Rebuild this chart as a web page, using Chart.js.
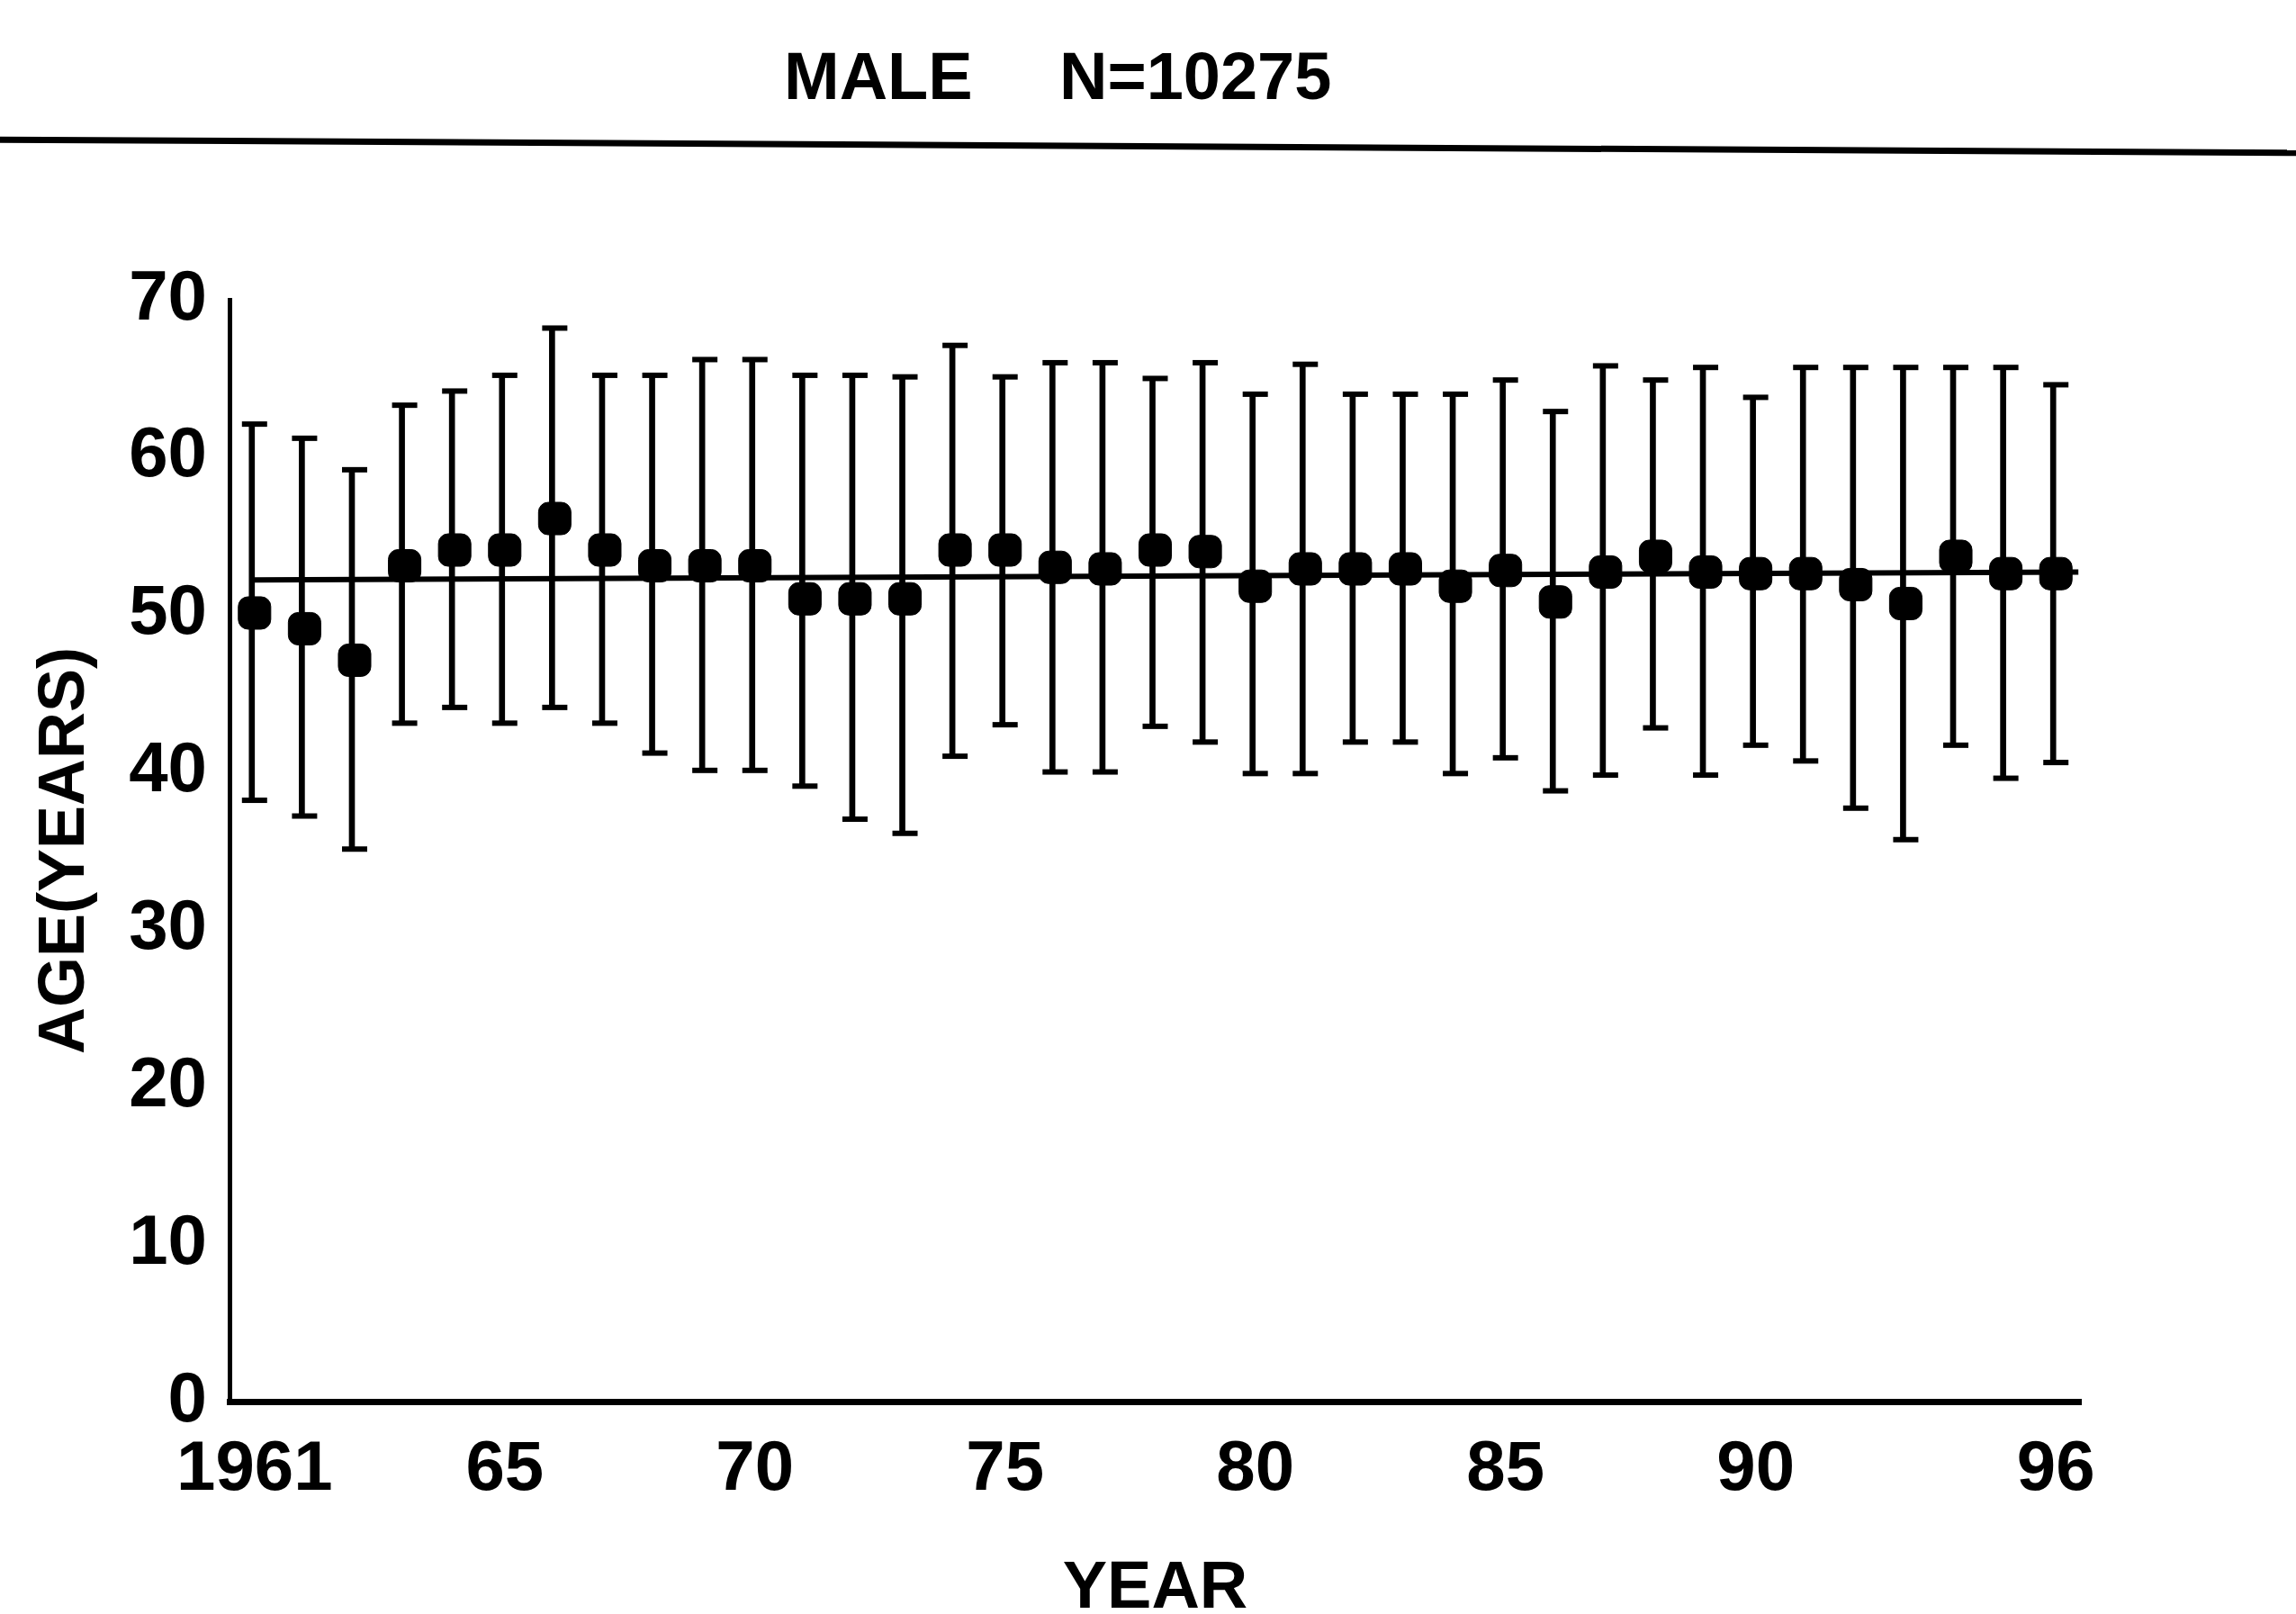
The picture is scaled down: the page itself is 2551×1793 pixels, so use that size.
<!DOCTYPE html>
<html>
<head>
<meta charset="utf-8">
<title>MALE N=10275</title>
<script src="https://cdn.jsdelivr.net/npm/chart.js@4.4.0/dist/chart.umd.min.js"></script>
<style>
  html, body { margin: 0; padding: 0; background: #fff; overflow: hidden; }
  #page { position: relative; width: 2551px; height: 1793px; overflow: hidden; }
  .head {
    position: absolute;
    top: 48px;
    font: bold 74px "Liberation Sans", Arial, sans-serif;
    line-height: 74px;
    color: #000;
    white-space: nowrap;
  }
  #rule {
    position: absolute;
    left: -10px; top: 159px;
    width: 2580px; height: 7px;
    background: #000;
    transform: rotate(0.33deg);
  }
  #ageChart { position: absolute; left: 0; top: 0; }
</style>
</head>
<body>
<div id="page">
  <div class="head" style="left:871px">MALE</div>
  <div class="head" style="left:1177px">N=10275</div>
  <div id="rule"></div>
  <canvas id="ageChart" width="2551" height="1830"></canvas>
</div>
<script>
"use strict";

// one category per plotted year, only some are labelled
const TICK_LABELS = [
  "1961", "", "", "", "", "65", "", "", "", "",
  "70", "", "", "", "", "75", "", "", "", "",
  "80", "", "", "", "", "85", "", "", "", "",
  "90", "", "", "", "", "", "96",
];

const MEAN_AGE = [
  50.1, 49.1, 47.1, 53.1, 54.1, 54.1, 56.1, 54.1, 53.1, 53.1,
  53.1, 51.0, 51.0, 51.0, 54.1, 54.1, 53.0, 52.9, 54.1, 54.0,
  51.8, 52.9, 52.9, 52.9, 51.8, 52.8, 50.8, 52.7, 53.7, 52.7,
  52.6, 52.6, 51.9, 50.7, 53.7, 52.6, 52.6,
];

const UPPER_AGE = [
  62.1, 61.2, 59.2, 63.3, 64.2, 65.2, 68.2, 65.2, 65.2, 66.2,
  66.2, 65.2, 65.2, 65.1, 67.1, 65.1, 66.0, 66.0, 65.0, 66.0,
  64.0, 65.9, 64.0, 64.0, 64.0, 64.9, 62.9, 65.8, 64.9, 65.7,
  63.8, 65.7, 65.7, 65.7, 65.7, 65.7, 64.6,
];

const LOWER_AGE = [
  38.2, 37.2, 35.1, 43.1, 44.1, 43.1, 44.1, 43.1, 41.2, 40.1,
  40.1, 39.1, 37.0, 36.1, 41.0, 43.0, 40.0, 40.0, 42.9, 41.9,
  39.9, 39.9, 41.9, 41.9, 39.9, 40.9, 38.8, 39.8, 42.8, 39.8,
  41.7, 40.7, 37.7, 35.7, 41.7, 39.6, 40.6,
];

// overall mean line: start / end position (category index) and value
const TREND_X = [0, 36.45];
const TREND_Y = [52.2, 52.7];

const Y_TICKS = [0, 10, 20, 30, 40, 50, 60, 70];

const FONT = "'Liberation Sans', Arial, sans-serif";
const INK  = "#000";

Chart.defaults.font.family = FONT;
Chart.defaults.font.weight = "bold";
Chart.defaults.color = INK;

function buildDatasets() {
  return [
    {
      type: "line",
      label: "Mean",
      data: MEAN_AGE,
      showLine: false,
      pointStyle: "rectRounded",
      pointRadius: 21,
      pointBackgroundColor: INK,
      pointBorderColor: INK,
      pointBorderWidth: 1,
    },
    {
      type: "line",
      label: "Upper",
      data: UPPER_AGE,
      showLine: false,
      pointStyle: "line",
      pointRadius: 14,
      pointBorderColor: INK,
      pointBorderWidth: 6,
    },
    {
      type: "line",
      label: "Lower",
      data: LOWER_AGE,
      showLine: false,
      pointStyle: "line",
      pointRadius: 14,
      pointBorderColor: INK,
      pointBorderWidth: 6,
    },
    {
      type: "line",
      label: "Overall",
      xAxisID: "x2",
      data: TREND_X.map((x, i) => ({ x, y: TREND_Y[i] })),
      borderColor: INK,
      borderWidth: 6,
      pointRadius: 0,
    },
    {
      type: "bar",
      label: "Range",
      data: LOWER_AGE.map((lo, i) => [lo, UPPER_AGE[i]]),
      backgroundColor: INK,
      borderWidth: 0,
      barThickness: 6,
    },
  ];
}

const canvas = document.getElementById("ageChart");

new Chart(canvas, {
  type: "bar",
  data: {
    labels: TICK_LABELS,
    datasets: buildDatasets(),
  },
  options: {
    responsive: false,
    devicePixelRatio: 1,
    animation: false,
    events: [],
    layout: {
      padding: { left: 0, top: 333, right: 239, bottom: 0 },
    },
    plugins: {
      legend: { display: false },
      tooltip: { enabled: false },
    },
    scales: {
      x: {
        type: "category",
        offset: true,
        grid: { display: false, drawTicks: false },
        border: { display: true, color: INK, width: 7 },
        ticks: {
          autoSkip: false,
          maxRotation: 0,
          padding: 30,
          font: { size: 78, weight: "bold" },
        },
        title: {
          display: true,
          text: "YEAR",
          font: { size: 74, weight: "bold" },
          padding: { top: 0, bottom: 20 },
        },
        afterFit: (scale) => { scale.height = 273; },
      },
      x2: {
        type: "linear",
        display: false,
        offset: false,
        min: -0.5,
        max: 36.5,
      },
      y: {
        min: 0,
        max: 70,
        grid: { display: false, drawTicks: false },
        border: { display: true, color: INK, width: 5 },
        afterBuildTicks: (scale) => {
          scale.ticks = Y_TICKS.map((value) => ({ value }));
        },
        ticks: {
          padding: 25,
          font: { size: 78, weight: "bold" },
        },
        title: {
          display: true,
          text: "AGE(YEARS)",
          font: { size: 72, weight: "bold" },
          padding: { top: 30, bottom: 0 },
        },
        afterFit: (scale) => { scale.width = 255; },
      },
    },
  },
});
</script>
</body>
</html>
